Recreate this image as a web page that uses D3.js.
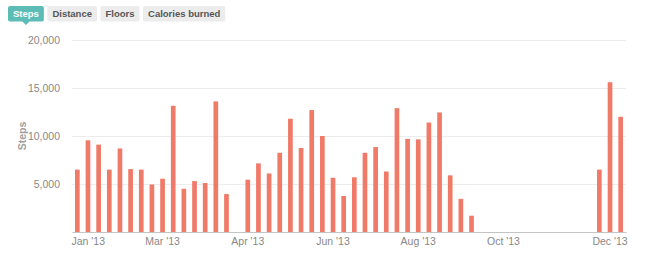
<!DOCTYPE html>
<html>
<head>
<meta charset="utf-8">
<script src="https://cdn.jsdelivr.net/npm/d3@7"></script>
<style>
	body { margin: 0; background: #fff; font-family: "Helvetica Neue", Helvetica, "Liberation Sans", Arial, sans-serif; }
	svg text { font-family: "Helvetica Neue", Helvetica, "Liberation Sans", Arial, sans-serif; }
</style>
</head>
<body>
<svg id="chart" width="650" height="253"></svg>
<script>
// tabs above the chart
let tabs = ["Steps", "Distance", "Floors", "Calories burned"];

// one bar per week, weeks start Mon Jan 7 2013
let weekStart = new Date(2013, 0, 7);
let steps = [
	6500, 9550, 9100, 6500, 8700, 6550, 6500, 4950, 5550, 13150,
	4500, 5300, 5100, 13600, 3950, 0, 5450, 7150, 6100, 8250,
	11800, 8750, 12700, 10000, 5650, 3750, 5700, 8250, 8850, 6300,
	12900, 9700, 9650, 11400, 12450, 5900, 3450, 1700, 0, 0,
	0, 0, 0, 0, 0, 0, 0, 0, 0, 6500,
	15600, 12000
];

// which weeks get a label on the x axis
let tickWeeks = [0, 8, 16, 24, 32, 40, 50];
let yTicks = [5000, 10000, 15000, 20000];

let weeks = steps.map(function(v, i) { return d3.timeWeek.offset(weekStart, i); });

let svg = d3.select("svg#chart"),
	margin = {top: 40, right: 24, bottom: 21, left: 72},
	width = +svg.attr("width") - margin.left - margin.right,
	height = +svg.attr("height") - margin.top - margin.bottom;

// tab row
let tabX = 8;
let tabG = svg.append("g").attr("class", "tabs");
tabs.forEach(function(name, i) {
	let sel = i === 0;
	let t = tabG.append("text")
		.attr("x", tabX + 5)
		.attr("y", 17)
		.style("font-size", "9.5px")
		.style("font-weight", "bold")
		.style("fill", sel ? "#fff" : "#555")
		.text(name);
	let w = t.node().getComputedTextLength() + 10;
	tabG.insert("rect", "text")
		.attr("x", tabX).attr("y", 6)
		.attr("width", w).attr("height", 15.5)
		.attr("rx", 2)
		.style("fill", sel ? "#5dbdb6" : "#ececec");
	if (sel) {
		let cx = tabX + w / 2;
		tabG.insert("path", "text")
			.attr("d", "M" + (cx - 4) + ",21L" + cx + ",25L" + (cx + 4) + ",21Z")
			.style("fill", "#5dbdb6");
	}
	tabX += w + 3.5;
});

let g = svg.append("g").attr("transform", "translate(" + margin.left + "," + margin.top + ")");

let x = d3.scaleBand()
	.domain(weeks)
	.range([0, width])
	.paddingInner(0.56)
	.paddingOuter(0.28);

let y = d3.scaleLinear()
	.domain([0, 20000])
	.range([height, 0]);

// grid lines
g.selectAll("line.grid")
	.data(yTicks)
	.enter().append("line")
	.attr("class", "grid")
	.attr("x1", 0).attr("x2", width)
	.attr("y1", function(d) { return Math.round(y(d)) + 0.5; })
	.attr("y2", function(d) { return Math.round(y(d)) + 0.5; })
	.style("stroke", "#ececec");

// y axis labels
let yAxis = g.append("g")
	.call(d3.axisLeft(y).tickValues(yTicks).tickSize(0).tickPadding(12).tickFormat(d3.format(",")));
yAxis.select(".domain").remove();
yAxis.selectAll("text")
	.style("font-size", "10.5px")
	.style("fill", "#888");

svg.append("text")
	.attr("transform", "translate(26," + (margin.top + height / 2) + ") rotate(-90)")
	.attr("text-anchor", "middle")
	.style("font-size", "10.5px")
	.style("font-weight", "bold")
	.style("fill", "#a0a0a0")
	.text("Steps");

// bars
g.selectAll("rect.bar")
	.data(steps)
	.enter().append("rect")
	.attr("class", "bar")
	.attr("x", function(d, i) { return x(weeks[i]); })
	.attr("width", x.bandwidth())
	.attr("y", function(d) { return y(d); })
	.attr("height", function(d) { return height - y(d); })
	.style("fill", "#f07a68");

// x axis
let xAxis = g.append("g")
	.attr("transform", "translate(0," + height + ")")
	.call(d3.axisBottom(x)
		.tickValues(tickWeeks.map(function(i) { return weeks[i]; }))
		.tickSize(0).tickPadding(6)
		.tickFormat(d3.timeFormat("%b '%y")));
xAxis.select(".domain").style("stroke", "#c4c4c4");
xAxis.selectAll(".tick text")
	.style("font-size", "10.5px")
	.style("fill", "#888")
	.attr("text-anchor", function(d, i) { return i === 0 ? "start" : "middle"; })
	.attr("x", function(d, i) { return i === 0 ? -x.step() / 2 - 0.5 : 0; });
</script>
</body>
</html>
